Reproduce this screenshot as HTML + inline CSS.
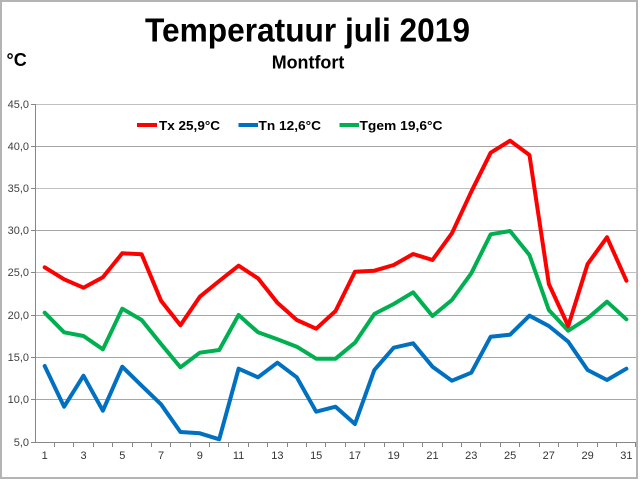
<!DOCTYPE html>
<html>
<head>
<meta charset="utf-8">
<style>
html,body{margin:0;padding:0;background:#fff;}
svg{display:block;}
text{font-family:"Liberation Sans",Arial,sans-serif;}
</style>
</head>
<body>
<svg width="640" height="480" viewBox="0 0 640 480" xmlns="http://www.w3.org/2000/svg">
<rect x="0" y="0" width="640" height="480" fill="#fff"/>
<rect x="1" y="1" width="636" height="477" fill="none" stroke="#b4b4b4" stroke-width="2"/>

<text x="145" y="41.7" font-size="33" font-weight="bold" fill="#000" textLength="325" lengthAdjust="spacingAndGlyphs">Temperatuur juli 2019</text>
<text x="271.7" y="68.3" font-size="18" font-weight="bold" fill="#000" textLength="72.6" lengthAdjust="spacingAndGlyphs">Montfort</text>
<text x="6.5" y="66" font-size="18" font-weight="bold" fill="#000">°C</text>

<path d="M35 104.5H636M35 188.5H636M35 272.5H636M636.5 104V442" stroke="#c0c0c0" stroke-width="1" fill="none" shape-rendering="crispEdges"/>
<path d="M35 146.5H636M35 230.5H636M35 315.5H636M35 357.5H636M35 399.5H636" stroke="#a6a6a6" stroke-width="1" fill="none" shape-rendering="crispEdges"/>

<path d="M35.5 104V443M31 442.5H636M31 104.5H35M31 146.5H35M31 188.5H35M31 230.5H35M31 272.5H35M31 315.5H35M31 357.5H35M31 399.5H35M54.5 442V447M73.5 442V447M93.5 442V447M112.5 442V447M132.5 442V447M151.5 442V447M170.5 442V447M190.5 442V447M209.5 442V447M228.5 442V447M248.5 442V447M267.5 442V447M287.5 442V447M306.5 442V447M325.5 442V447M345.5 442V447M364.5 442V447M384.5 442V447M403.5 442V447M422.5 442V447M442.5 442V447M461.5 442V447M480.5 442V447M500.5 442V447M519.5 442V447M539.5 442V447M558.5 442V447M577.5 442V447M597.5 442V447M616.5 442V447M635.5 442V447" stroke="#868686" stroke-width="1" fill="none" shape-rendering="crispEdges"/>

<g font-size="11" fill="#404040" text-anchor="end">
<text x="29" y="108">45,0</text>
<text x="29" y="150">40,0</text>
<text x="29" y="192">35,0</text>
<text x="29" y="234">30,0</text>
<text x="29" y="276">25,0</text>
<text x="29" y="319">20,0</text>
<text x="29" y="361">15,0</text>
<text x="29" y="403">10,0</text>
<text x="29" y="446">5,0</text>
</g>

<g font-size="11" fill="#333" text-anchor="middle">
<text x="44.7" y="459">1</text>
<text x="83.5" y="459">3</text>
<text x="122.3" y="459">5</text>
<text x="161" y="459">7</text>
<text x="199.8" y="459">9</text>
<text x="238.6" y="459">11</text>
<text x="277.4" y="459">13</text>
<text x="316.2" y="459">15</text>
<text x="354.9" y="459">17</text>
<text x="393.7" y="459">19</text>
<text x="432.5" y="459">21</text>
<text x="471.3" y="459">23</text>
<text x="510.1" y="459">25</text>
<text x="548.8" y="459">27</text>
<text x="587.6" y="459">29</text>
<text x="626.4" y="459">31</text>
</g>

<g fill="none" stroke-width="4" stroke-linejoin="round" stroke-linecap="round">
<polyline stroke="#00b050" points="44.7,312.7 64.09,332.3 83.48,336 102.87,349.3 122.26,308.7 141.65,320 161.04,344 180.43,367.3 199.82,352.7 219.21,350 238.6,315 257.99,332.3 277.38,339.3 296.77,346.7 316.16,358.7 335.55,358.7 354.94,342.7 374.33,314 393.72,304 413.11,292.3 432.5,316 451.89,300 471.28,273.3 490.67,234.3 510.06,231 529.45,255 548.84,310 568.23,330.7 587.62,318.3 607.01,301.7 626.4,319.3"/>
<polyline stroke="#0070c0" points="44.7,366 64.09,406.7 83.48,375.7 102.87,410.7 122.26,366.7 141.65,385.7 161.04,404.3 180.43,432 199.82,433.3 219.21,439.3 238.6,368.7 257.99,377.3 277.38,362.7 296.77,377.3 316.16,411.7 335.55,406.7 354.94,424 374.33,370 393.72,347.7 413.11,343.3 432.5,366.7 451.89,380.7 471.28,372.7 490.67,336.7 510.06,334.7 529.45,315.7 548.84,326 568.23,341.7 587.62,370 607.01,380 626.4,368.7"/>
<polyline stroke="#ff0000" points="44.7,267.3 64.09,279.3 83.48,287.7 102.87,277.3 122.26,253.3 141.65,254.3 161.04,300.7 180.43,325.3 199.82,296.7 219.21,281 238.6,265.7 257.99,278.3 277.38,302.7 296.77,320 316.16,328.7 335.55,311 354.94,271.7 374.33,270.7 393.72,265 413.11,254 432.5,260 451.89,233.3 471.28,191.7 490.67,152.7 510.06,140.7 529.45,155 548.84,284 568.23,326 587.62,264 607.01,237.3 626.4,280.7"/>
</g>

<g stroke-width="4">
<line x1="137" y1="125" x2="157" y2="125" stroke="#ff0000"/>
<line x1="238.5" y1="125" x2="258" y2="125" stroke="#0070c0"/>
<line x1="339.5" y1="125" x2="359" y2="125" stroke="#00b050"/>
</g>
<g font-size="13" font-weight="bold" fill="#000">
<text x="159" y="130" textLength="61" lengthAdjust="spacingAndGlyphs">Tx 25,9°C</text>
<text x="258.5" y="130" textLength="62.5" lengthAdjust="spacingAndGlyphs">Tn 12,6°C</text>
<text x="359.5" y="130" textLength="83" lengthAdjust="spacingAndGlyphs">Tgem 19,6°C</text>
</g>
</svg>
</body>
</html>
